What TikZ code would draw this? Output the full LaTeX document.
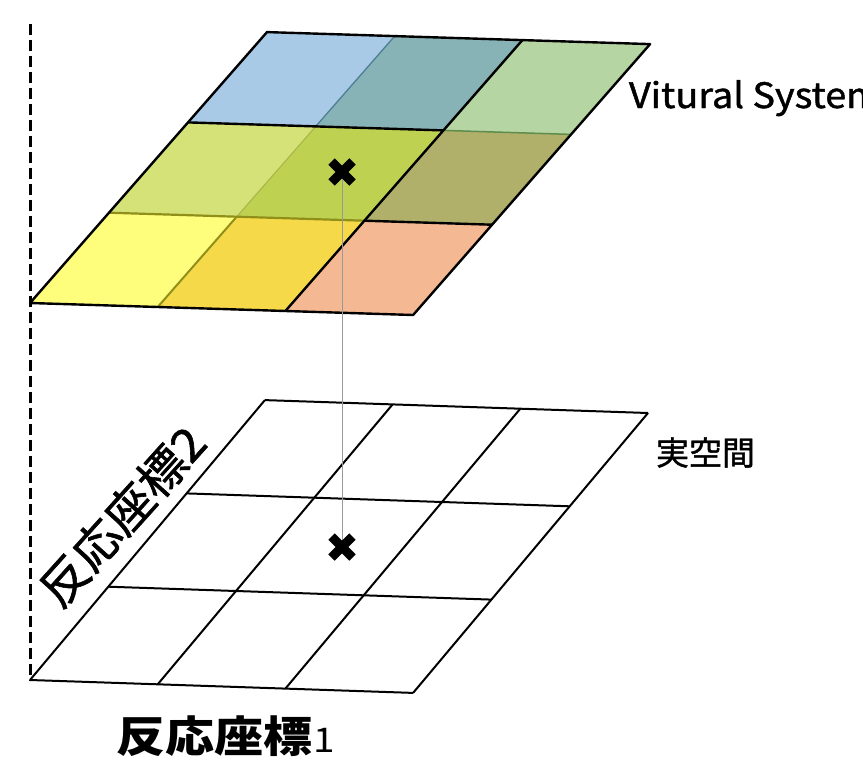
\documentclass[tikz,border=0pt]{standalone}
\usepackage{fontspec}
\setmainfont{Noto Sans CJK JP}
\newfontfamily\jpmed{Noto Sans CJK JP}[FakeBold=1.2]
\usetikzlibrary{calc}
\definecolor{cYel}{HTML}{FFFD7C}
\definecolor{cGold}{HTML}{F6D948}
\definecolor{cSalmon}{HTML}{F4B993}
\definecolor{cLime}{HTML}{D4E277}
\definecolor{cLime2}{HTML}{BFD150}
\definecolor{cOlive}{HTML}{B0B06B}
\definecolor{cBlue}{HTML}{A9CAE6}
\definecolor{cTeal}{HTML}{87B2B6}
\definecolor{cGreen}{HTML}{B5D5A2}
\definecolor{eOlive}{HTML}{8F8F1A}
\definecolor{eOlive2}{HTML}{A6B448}
\definecolor{eBlueTeal}{HTML}{4F7F95}
\definecolor{eDkGreen}{HTML}{5F8C4C}
\newcommand\cellat[3]{\fill[#1] (#2,#3) -- ++(1,0) -- ++(0,1) -- ++(-1,0) -- cycle;}
\begin{document}
\begin{tikzpicture}[x=1pt,y=-1pt,
  edge/.style={line width=2.4pt, black, line join=round},
  gridline/.style={line width=2pt, black},
  lbl/.style={inner sep=0pt, outer sep=0pt},
  crossmark/.style={line width=9pt, black},
  axisdash/.style={line width=3pt, black, dash pattern=on 11pt off 5pt},
  link/.style={line width=0.8pt, black!40}]
\useasboundingbox (0,0) rectangle (863,763);
\fill[white] (0,0) rectangle (863,763);

% dashed vertical axis
\coordinate (dtop) at (30,24);
\coordinate (dbot) at (30,681);
\draw[axisdash] (dtop) -- (dbot);

% lower grid (real space)
\begin{scope}[shift={(30,680)}, x={(127.7pt,-4.3pt)}, y={(78.3pt,93.3pt)}]
  \foreach \i in {0,1,2,3} {
    \draw[gridline] (\i,0) -- (\i,3);
    \draw[gridline] (0,\i) -- (3,\i);
  }
\end{scope}

% upper grid (virtual system)
\begin{scope}[shift={(30,303)}, x={(127.7pt,-4pt)}, y={(79pt,90.3pt)}]
  \cellat{cYel}{0}{0}
  \cellat{cGold}{1}{0}
  \cellat{cSalmon}{2}{0}
  \cellat{cLime}{0}{1}
  \cellat{cLime2}{1}{1}
  \cellat{cOlive}{2}{1}
  \cellat{cBlue}{0}{2}
  \cellat{cTeal}{1}{2}
  \cellat{cGreen}{2}{2}
  \draw[line width=2pt, eOlive] (1,0) -- (1,1);
  \draw[line width=1pt, eOlive2] (1,1) -- (1,2);
  \draw[line width=1.3pt, eBlueTeal] (1,2) -- (1,3);
  \draw[line width=2.2pt, eOlive] (0,1) -- (2,1);
  \draw[line width=1.5pt, eDkGreen] (2,2) -- (3,2);
  \draw[edge] (2,1) -- (3,1);
  \draw[edge] (0,2) -- (2,2);
  \draw[edge] (2,0) -- (2,3);
  \draw[edge] (0,0) -- (3,0) -- (3,3) -- (0,3) -- cycle;
\end{scope}

% crosses and link
\coordinate (xu) at (342,172);
\coordinate (xl) at (342,547);
\draw[link] (xu) -- (xl);
\draw[crossmark, shift={(xu)}] (-10.5,-10.5) -- (10.5,10.5) (-10.5,10.5) -- (10.5,-10.5);
\draw[crossmark, shift={(xl)}] (-10.5,-10.5) -- (10.5,10.5) (-10.5,10.5) -- (10.5,-10.5);

% labels
\node[lbl, anchor=base west, xscale=1.08, font=\jpmed\fontsize{35}{40}\selectfont] (vs) at (629,108) {Vitural System};
\node[lbl, anchor=base west, font=\jpmed\fontsize{33}{40}\selectfont] (rs) at (656,465) {実空間};
\node[lbl, anchor=base west, xscale=1.14, font=\bfseries\fontsize{43}{50}\selectfont] (rc1) at (116,752) {反応座標\hspace{1pt}{\mdseries\fontsize{34}{36}\selectfont 1}};
\node[lbl, rotate=48, xscale=1.06, font=\jpmed\fontsize{46}{50}\selectfont] (rc2) at (122,516) {反応座標2};
\end{tikzpicture}
\end{document}
